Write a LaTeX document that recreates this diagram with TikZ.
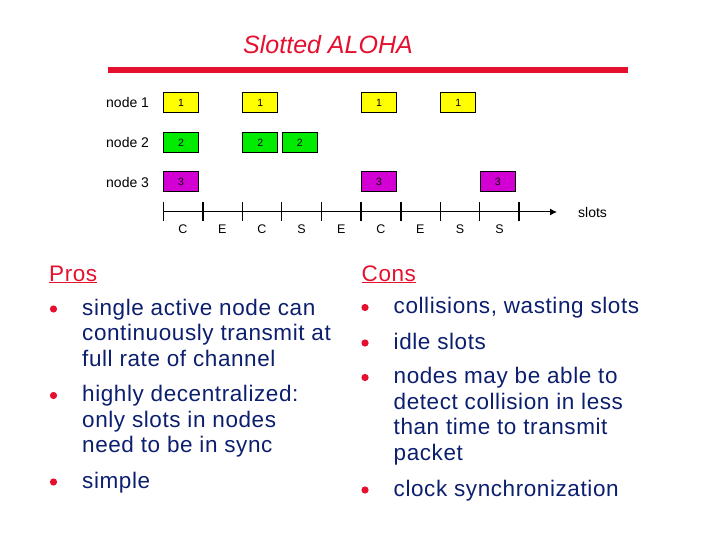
\documentclass[tikz,border=0pt]{standalone}
\usepackage{fontspec}
\setmainfont{Liberation Sans}
\newfontfamily\itemfont[LetterSpace=2.6]{Liberation Sans}
\usetikzlibrary{arrows.meta,positioning,calc}

\definecolor{alohared}{RGB}{228,16,46}
\definecolor{textnavy}{RGB}{12,30,110}
\definecolor{pktyellow}{RGB}{255,255,0}
\definecolor{pktgreen}{RGB}{0,235,0}
\definecolor{pktmagenta}{RGB}{210,0,210}

\tikzset{
    pkt/.style={rectangle,draw=black,line width=1.2pt,minimum width=35pt,minimum height=20pt,inner sep=0pt,anchor=north west,font=\fontsize{10.5}{10.5}\selectfont},
    rowlabel/.style={anchor=west,inner sep=0pt,font=\fontsize{14}{14}\selectfont},
    slotlabel/.style={font=\fontsize{12.5}{12.5}\selectfont},
    head/.style={anchor=base west,inner sep=0pt,text=alohared,font=\itemfont\fontsize{22.5}{25.5}\selectfont},
    item/.style={anchor=base west,align=left,inner sep=0pt,text=textnavy,font=\itemfont\fontsize{22.5}{25.5}\selectfont},
    dot/.style={circle,fill=alohared,inner sep=0pt,minimum size=7.2pt}
}

\begin{document}
\begin{tikzpicture}[x=1pt,y=-1pt]
    \useasboundingbox (0,0) rectangle (720,540);

    % Title
    \node[text=alohared,font=\fontsize{25}{25}\selectfont\itshape] (title) at (328,45) {Slotted ALOHA};
    \coordinate (rulel) at (108,70);
    \coordinate (ruler) at (628,70);
    \draw[alohared,line width=6pt] (rulel) -- (ruler);

    % Rows
    \node[rowlabel] (node1) at (106,102) {node 1};
    \node[rowlabel] (node2) at (106,142) {node 2};
    \node[rowlabel] (node3) at (106,182) {node 3};

    % Packets
    \foreach \s in {0,2,5,7}
        \node[pkt,fill=pktyellow] (one\s) at (163+39.6*\s,92) {1};
    \foreach \s in {0,2,3}
        \node[pkt,fill=pktgreen] (two\s) at (163+39.6*\s,132) {2};
    \foreach \s in {0,5,8}
        \node[pkt,fill=pktmagenta] (three\s) at (163+39.6*\s,171) {3};

    % Slot axis
    \coordinate (axisstart) at (163,212);
    \coordinate (axisend) at (557,212);
    \draw[line width=1pt,-{Latex[length=7pt,width=7pt]}] (axisstart) -- (axisend);
    \foreach \k/\w in {0/0.8,1/2,2/0.8,3/0.8,4/0.8,5/2,6/2,7/0.8,8/0.8,9/2}
        \draw[line width=\w pt] (163+39.6*\k,202) -- (163+39.6*\k,221);
    \foreach \k/\l in {0/C,1/E,2/C,3/S,4/E,5/C,6/E,7/S,8/S}
        \node[slotlabel] (lab\k) at (182.8+39.6*\k,229.5) {\l};
    \node[rowlabel,right=21pt of axisend] (slots) {slots};

    % Pros (items placed at the baseline of their last line)
    \node[head] (pros) at (49,281) {\underline{Pros}};
    \node[item] (pro1) at (82,366) {single active node can\\continuously transmit at\\full rate of channel};
    \node[item] (pro2) at (82,452.5) {highly decentralized:\\only slots in nodes\\need to be in sync};
    \node[item] (pro3) at (82,488) {simple};
    \node[dot] (dotp1) at (53.5,309) {};
    \node[dot] (dotp2) at (53.5,395.5) {};
    \node[dot] (dotp3) at (53.5,482) {};

    % Cons
    \node[head] (cons) at (361.5,281) {\underline{Cons}};
    \node[item] (con1) at (393.5,313.5) {collisions, wasting slots};
    \node[item] (con2) at (393.5,349) {idle slots};
    \node[item] (con3) at (393.5,460) {nodes may be able to\\detect collision in less\\than time to transmit\\packet};
    \node[item] (con4) at (393.5,496) {clock synchronization};
    \node[dot] (dotc1) at (365,307.5) {};
    \node[dot] (dotc2) at (365,343) {};
    \node[dot] (dotc3) at (365,377.5) {};
    \node[dot] (dotc4) at (365,490) {};
\end{tikzpicture}
\end{document}
